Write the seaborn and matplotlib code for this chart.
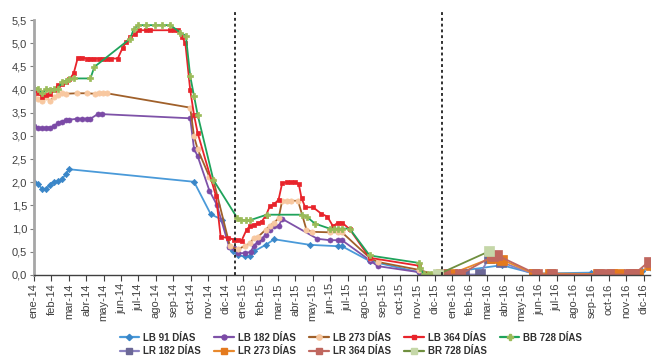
import matplotlib
matplotlib.use("Agg")
import matplotlib.pyplot as plt
from matplotlib.lines import Line2D
from matplotlib.ticker import FuncFormatter, FixedLocator
import seaborn as sns
import pandas as pd

# Position on the time axis in months (0 = ene-14) and yield in %
meses = ["ene", "feb", "mar", "abr", "may", "jun", "jul", "ago", "sep", "oct", "nov", "dic"]
etiquetas_x = [f"{m}-{a}" for a in ("14", "15", "16") for m in meses]

lb91_mes = [0.03, 0.23, 0.47, 0.70, 0.91, 1.14, 1.37, 1.62, 1.83, 2.04, 9.19, 10.15, 10.80,
            11.25, 11.44, 11.69, 12.13, 12.40, 12.63, 13.31, 13.79, 15.83, 17.44, 17.68,
            19.27, 22.09, 22.35, 23.50, 26.86, 28.70, 32.00, 34.90, 35.40]
lb91_tasa = [2.00, 1.97, 1.85, 1.85, 1.95, 2.01, 2.02, 2.07, 2.18, 2.28, 2.01, 1.31, 1.19,
             0.60, 0.51, 0.42, 0.40, 0.40, 0.51, 0.65, 0.77, 0.65, 0.62, 0.62,
             0.30, 0.06, 0.02, 0.04, 0.21, 0.03, 0.05, 0.08, 0.16]

lb182_mes = [0.03, 0.23, 0.47, 0.70, 0.91, 1.14, 1.37, 1.62, 1.83, 2.04, 2.48, 2.77, 3.02,
             3.24, 3.66, 3.91, 8.97, 9.19, 9.40, 10.07, 10.49, 11.21, 11.48, 11.73, 12.13,
             12.44, 12.63, 12.86, 13.07, 13.31, 13.54, 13.79, 14.04, 14.25, 16.27, 16.98,
             17.44, 17.68, 19.30, 19.74, 22.10]
lb182_tasa = [3.22, 3.18, 3.16, 3.18, 3.18, 3.22, 3.27, 3.31, 3.35, 3.35, 3.37, 3.37, 3.37,
              3.37, 3.47, 3.47, 3.38, 2.72, 2.56, 1.82, 1.52, 0.60, 0.58, 0.47, 0.47,
              0.50, 0.63, 0.72, 0.78, 0.87, 0.98, 1.05, 1.05, 1.21, 0.78, 0.75,
              0.75, 0.75, 0.31, 0.19, 0.06]

lb273_mes = [0.03, 0.23, 0.47, 0.70, 0.91, 1.14, 1.37, 1.62, 1.83, 2.48, 3.02, 3.48, 3.72,
             3.95, 4.18, 8.97, 9.19, 9.40, 10.07, 10.30, 11.25, 11.69, 12.13, 12.40, 12.63,
             12.86, 13.31, 13.54, 13.79, 14.04, 14.25, 14.50, 14.78, 15.16, 15.64, 15.99,
             16.98, 17.44, 17.68, 19.30, 19.74, 22.10, 22.98]
lb273_tasa = [3.85, 3.79, 3.75, 3.83, 3.76, 3.83, 3.88, 3.92, 3.91, 3.92, 3.92, 3.91, 3.92,
              3.92, 3.92, 3.61, 2.99, 2.71, 2.12, 2.05, 0.62, 0.55, 0.63, 0.68, 0.80,
              0.82, 0.98, 1.06, 1.13, 1.22, 1.60, 1.60, 1.60, 1.60, 0.98, 0.93,
              0.92, 0.92, 0.92, 0.36, 0.28, 0.11, 0.01]

lb364_mes = [0.03, 0.23, 0.47, 0.70, 0.91, 1.14, 1.37, 1.62, 1.83, 2.04, 2.28, 2.52, 2.77,
             3.02, 3.24, 3.47, 3.72, 3.95, 4.18, 4.41, 4.81, 5.09, 5.30, 5.53, 5.78, 6.01,
             6.45, 6.68, 7.83, 8.06, 8.27, 8.50, 8.69, 8.97, 9.19, 9.40, 10.45, 10.72,
             11.16, 11.48, 11.69, 11.92, 12.21, 12.40, 12.63, 12.86, 13.07, 13.31, 13.54,
             13.79, 14.04, 14.25, 14.50, 14.78, 15.00, 15.20, 15.36, 15.57, 16.02, 16.50,
             16.84, 17.17, 17.45, 17.68, 18.12, 19.27, 22.09]
lb364_tasa = [3.99, 3.92, 3.85, 3.88, 3.91, 3.98, 4.10, 4.13, 4.17, 4.22, 4.35, 4.69, 4.69,
              4.67, 4.67, 4.67, 4.67, 4.67, 4.67, 4.67, 4.67, 4.90, 5.03, 5.13, 5.19, 5.28,
              5.28, 5.28, 5.28, 5.28, 5.28, 5.14, 5.00, 3.99, 3.45, 3.06, 1.70, 0.82,
              0.80, 0.76, 0.75, 0.74, 0.98, 1.05, 1.08, 1.12, 1.15, 1.28, 1.48,
              1.53, 1.62, 1.98, 2.00, 2.00, 2.00, 1.96, 1.66, 1.46, 1.46, 1.32,
              1.26, 1.05, 1.13, 1.13, 0.99, 0.37, 0.20]

bb728_mes = [0.03, 0.23, 0.47, 0.70, 0.91, 1.14, 1.37, 1.62, 1.83, 2.04, 2.28, 3.24, 3.47,
             5.53, 5.72, 5.97, 6.45, 6.96, 7.34, 7.83, 8.40, 8.72, 8.97, 9.19, 9.40, 10.30,
             11.67, 11.91, 12.16, 12.40, 13.36, 15.36, 15.65, 16.12, 16.97, 17.21, 17.45,
             17.70, 18.12, 19.27, 22.09, 22.15, 22.40, 22.60, 22.80]
bb728_tasa = [4.04, 4.01, 3.92, 4.01, 4.00, 4.01, 4.01, 4.17, 4.19, 4.23, 4.24, 4.24, 4.49,
              5.10, 5.30, 5.39, 5.39, 5.39, 5.39, 5.39, 5.23, 5.16, 4.29, 3.86, 3.45, 2.05,
              1.23, 1.19, 1.18, 1.18, 1.30, 1.30, 1.26, 1.11, 1.00, 1.00, 1.00,
              1.00, 1.00, 0.42, 0.26, 0.15, 0.01, 0.01, 0.01]

lr182_mes = [24.70, 25.60, 26.10, 26.80, 28.70]
lr182_tasa = [0.01, 0.01, 0.36, 0.28, 0.02]

lr273_mes = [23.35, 24.00, 26.30, 26.86, 28.70, 29.60, 32.40, 33.20, 33.60, 34.30, 34.70, 35.40]
lr273_tasa = [0.03, 0.03, 0.37, 0.33, 0.03, 0.03, 0.02, 0.02, 0.02, 0.02, 0.02, 0.22]

lr364_mes = [23.62, 24.46, 26.33, 26.61, 28.90, 29.72, 32.43, 33.00, 34.15, 34.44, 35.30]
lr364_tasa = [0.01, 0.01, 0.40, 0.42, 0.01, 0.01, 0.01, 0.01, 0.01, 0.01, 0.29]

br728_mes = [23.18, 26.13]
br728_tasa = [0.01, 0.51]

# Year boundaries marked with dotted lines
cortes = [11.52, 23.43]

series = [
    # name, months, values, line colour, marker, marker size, marker face colour
    ("LB 91 DÍAS", lb91_mes, lb91_tasa, "#4A9AD9", "D", 3.2, "#3A86C8"),
    ("LB 182 DÍAS", lb182_mes, lb182_tasa, "#7E52A8", "o", 3.6, "#7B4AA6"),
    ("LB 273 DÍAS", lb273_mes, lb273_tasa, "#A0602A", "o", 3.8, "#F8C8A0"),
    ("LB 364 DÍAS", lb364_mes, lb364_tasa, "#E8242B", "s", 2.4, "#E8242B"),
    ("BB 728 DÍAS", bb728_mes, bb728_tasa, "#1FA35B", "P", 4.5, "#9BBB59"),
    ("LR 182 DÍAS", lr182_mes, lr182_tasa, "#8B82C0", "s", 7.0, "#6C6897"),
    ("LR 273 DÍAS", lr273_mes, lr273_tasa, "#E8892E", "s", 7.0, "#E47A1E"),
    ("LR 364 DÍAS", lr364_mes, lr364_tasa, "#C06860", "s", 7.0, "#C0675F"),
    ("BR 728 DÍAS", br728_mes, br728_tasa, "#6F8F3F", "s", 7.0, "#C5D7A8"),
]

sns.set_theme(style="white")
plt.rcParams["font.family"] = ["Liberation Sans", "DejaVu Sans"]

fig = plt.figure(figsize=(6.53, 3.58), dpi=100)
ax = fig.add_axes([0.052, 0.232, 0.943, 0.712])

handles = {}
for nombre, xs, ys, col, mk, ms, mfc in series:
    df = pd.DataFrame({"mes": xs, "tasa": ys})
    sns.lineplot(data=df, x="mes", y="tasa", ax=ax, color=col, linewidth=1.3,
                 marker=mk, markersize=ms, markerfacecolor=mfc, markeredgecolor=mfc,
                 markeredgewidth=0.5, estimator=None, sort=False, legend=False)
    handles[nombre] = Line2D([0], [0], color=col, linewidth=1.6, marker=mk,
                             markersize=min(ms, 4.5), markerfacecolor=mfc,
                             markeredgecolor=mfc)

for c in cortes:
    ax.axvline(c, ymin=0, ymax=1.03, color="#202020", linestyle=(0, (1.6, 1.6)),
               linewidth=1.3, clip_on=False)

ax.set_xlim(0, 35.35)
ax.set_ylim(0, 5.5)
ax.xaxis.set_major_locator(FixedLocator(list(range(len(etiquetas_x)))))
ax.set_xticklabels(etiquetas_x, rotation=90, fontsize=8, color="#404040")
ax.set_yticks([i * 0.5 for i in range(12)])
ax.yaxis.set_major_formatter(FuncFormatter(lambda v, p: f"{v:.1f}".replace(".", ",")))
ax.tick_params(axis="y", labelsize=8, labelcolor="#404040", length=3, width=0.8,
               color="#808080", left=True, pad=2)
ax.tick_params(axis="x", length=4, width=0.8, color="#404040", bottom=True, pad=2)
ax.set_xlabel("")
ax.set_ylabel("")
for s in ("top", "right"):
    ax.spines[s].set_visible(False)
ax.spines["left"].set_color("#A6A6A6")
ax.spines["left"].set_linewidth(2.0)
ax.spines["bottom"].set_color("#404040")
ax.spines["bottom"].set_linewidth(1.0)

orden = ["LB 91 DÍAS", "LR 182 DÍAS", "LB 182 DÍAS", "LR 273 DÍAS", "LB 273 DÍAS",
         "LR 364 DÍAS", "LB 364 DÍAS", "BR 728 DÍAS", "BB 728 DÍAS"]
leg = fig.legend([handles[n] for n in orden], orden, loc="lower center",
                 bbox_to_anchor=(0.5375, -0.02), ncol=5, frameon=False,
                 prop={"size": 7, "weight": "bold"}, handlelength=2.0,
                 handletextpad=0.4, columnspacing=1.4, labelspacing=0.4)
for t in leg.get_texts():
    t.set_color("#303030")

fig.savefig("out.png", dpi=100, facecolor="white")
